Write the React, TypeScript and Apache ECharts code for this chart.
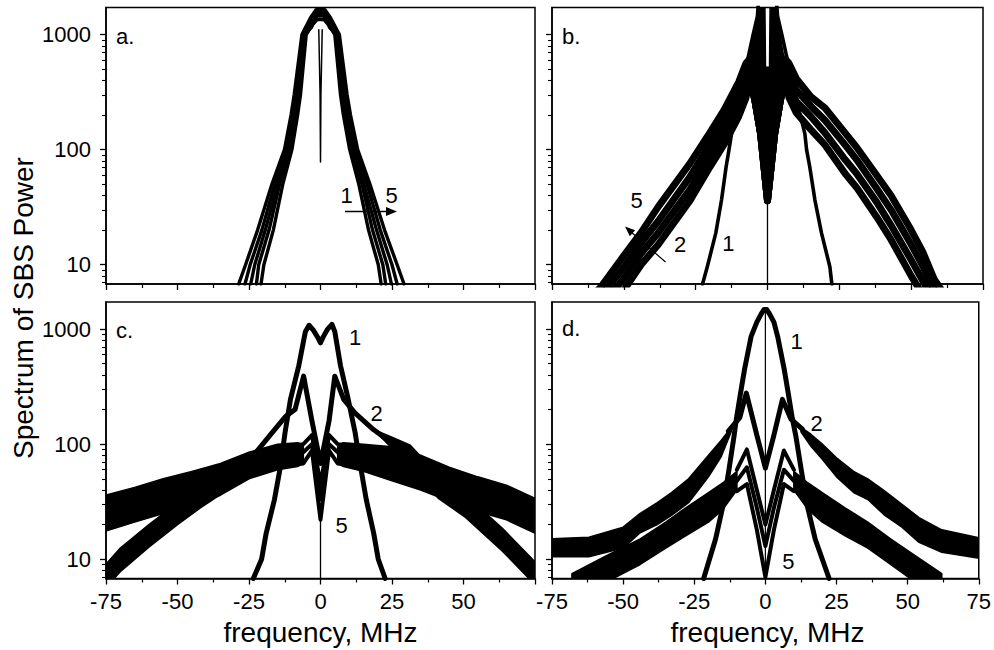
import React, { useEffect, useRef } from 'react';
import * as echarts from 'echarts';

// ---------- axis values ----------
const Y_MIN = 6.8;
const Y_MAX = 1720;
const X_MAJOR = [-75, -50, -25, 0, 25, 50, 75];
const X_MAJOR_C = [-75, -50, -25, 0, 25, 50];
const X_MINOR = [-62.5, -37.5, -12.5, 12.5, 37.5, 62.5];
const Y_MAJOR = [10, 100, 1000];
const Y_MINOR = [7, 8, 9, 20, 30, 40, 50, 60, 70, 80, 90, 200, 300, 400, 500, 600, 700, 800, 900];

// ---------- panel a : five spectra ----------
const A_X1 = [-20.8, -19.8, -16.5, -13.2, -10.0, -8.0, -7.0, -5.0, -3.0, -1.2, 1.2, 3.0, 5.0, 7.0, 8.0, 10.2, 13.4, 16.8, 20.2, 21.2];
const A_Y1 = [6.8, 10, 20, 50, 100, 200, 300, 1000, 1200, 1350, 1350, 1200, 1000, 300, 200, 100, 50, 20, 10, 6.8];
const A_X2 = [-22.4, -21.6, -18.0, -14.3, -10.8, -8.6, -7.6, -5.4, -3.0, -1.2, 1.2, 3.0, 5.5, 7.7, 8.7, 11.0, 14.5, 18.2, 21.8, 22.8];
const A_Y2 = [6.8, 10, 20, 50, 100, 200, 300, 1000, 1250, 1450, 1450, 1250, 1000, 300, 200, 100, 50, 20, 10, 6.8];
const A_X3 = [-24.4, -23.0, -19.3, -15.0, -11.4, -9.2, -8.2, -5.8, -3.2, -1.0, 1.0, 3.2, 5.9, 8.3, 9.3, 11.6, 15.2, 19.6, 23.3, 24.8];
const A_Y3 = [6.8, 10, 20, 50, 100, 200, 300, 1000, 1150, 1550, 1550, 1150, 1000, 300, 200, 100, 50, 20, 10, 6.8];
const A_X4 = [-26.4, -24.6, -20.5, -16.0, -12.0, -9.8, -8.7, -6.1, -3.4, -1.4, 1.4, 3.4, 6.2, 8.8, 9.9, 12.3, 16.3, 20.9, 25.0, 26.8];
const A_Y4 = [6.8, 10, 20, 50, 100, 200, 300, 1000, 1350, 1500, 1500, 1350, 1000, 300, 200, 100, 50, 20, 10, 6.8];
const A_X5 = [-28.6, -26.2, -22.0, -17.0, -12.6, -10.3, -9.2, -6.5, -3.5, -1.5, 1.5, 3.5, 6.6, 9.3, 10.5, 13.0, 17.3, 22.4, 26.8, 29.2];
const A_Y5 = [6.8, 10, 20, 50, 100, 200, 300, 1000, 1400, 1650, 1650, 1400, 1000, 300, 200, 100, 50, 20, 10, 6.8];
const A_DIP_X = [-0.6, -0.15, 0, 0.15, 0.6];
const A_DIP_Y = [1100, 300, 78, 300, 1100];

// ---------- panel b ----------
const B_X1 = [-22.6, -21.0, -18.0, -16.0, -14.4, -13.4, -12.5, -10.0, -7.5, -5.0, -3.5, -2.6, 2.6, 3.5, 5.0, 7.5, 10.1, 13.0, 13.6, 14.7, 16.5, 18.8, 21.7, 22.4];
const B_Y1 = [6.8, 9.5, 18.8, 36.5, 71, 100, 138, 270, 520, 1000, 1450, 3000, 3000, 1450, 1000, 520, 270, 138, 100, 71, 36.5, 18.8, 9.6, 6.8];
const B_WX = [-64, -58, -50, -44, -38, -27, -20, -15, -10, -7.5, -6.5, -4.4, -2.4, 0, 2.5, 4.5, 6.5, 7.5, 10, 15, 20, 27, 31, 38, 43, 50, 54, 58, 64];
const B_Y2 = [2.3, 3.4, 6.0, 10, 15, 36, 71, 112, 195, 282, 400, 270, 138, 36, 138, 270, 400, 282, 209, 150, 110, 62, 47, 26, 16.5, 8, 5.5, 3.8, 2.6];
const B_Y3 = [2.9, 4.3, 7.6, 12.5, 19, 45, 89, 141, 245, 355, 450, 270, 138, 36, 138, 270, 450, 355, 263, 195, 140, 82, 62, 35, 22, 11, 7.3, 4.8, 3.1];
const B_Y4 = [3.6, 5.3, 9.5, 15.5, 24, 58, 112, 178, 309, 447, 520, 270, 138, 36, 138, 270, 520, 447, 331, 240, 180, 110, 82, 46, 30, 15, 9.8, 6, 3.8];
const B_Y5 = [4.5, 6.4, 12, 19, 32, 76, 141, 224, 389, 562, 600, 270, 138, 36, 138, 270, 600, 562, 417, 290, 230, 140, 105, 60, 40, 20, 13, 7.5, 4.5];
const B_CORE_X = [-7.4, -5.8, -4.4, -3.3, -0.9, -0.7, 0.7, 0.9, 2.9, 4.3, 5.4, 7.3, 4.5, 2.5, 0.4, -0.4, -2.4, -4.4];
const B_CORE_Y = [480, 700, 1020, 1720, 1720, 520, 520, 1720, 1720, 1020, 700, 480, 270, 138, 36, 36, 138, 270];
const B_MID_X = [0, 0];
const B_MID_Y = [6.8, 520];

// ---------- panel c ----------
const C_X1 = [-23.5, -20.6, -19.0, -16.1, -14.0, -12.4, -10.5, -7.6, -5.3, -4.0, -2.5, -1.0, 0, 1.0, 2.5, 4.0, 5.0, 7.0, 9.7, 12.1, 14.0, 16.0, 18.6, 20.2, 22.6];
const C_Y1 = [6.8, 10, 16.8, 33, 64, 126, 245, 480, 950, 1080, 980, 850, 760, 860, 1000, 1100, 950, 480, 245, 126, 64, 33, 16.8, 10, 6.8];
// curve 2: central part (line) and its noisy wings (bands)
const C_X2 = [-25, -21.7, -16.9, -12.1, -8.9, -5.9, -3, 0, 3, 5.0, 8.1, 12.1, 18.5, 25];
const C_Y2 = [72, 90, 126, 175, 200, 390, 160, 68, 160, 390, 245, 186, 134, 102];
const C_W2L_X = [-77, -70, -60, -50, -42, -30, -25, -21.7];
const C_W2L_HI = [8, 12.5, 20, 31, 44, 66, 80, 90];
const C_W2L_LO = [5, 7.8, 12.7, 20, 28, 44, 62, 90];
const C_W2R_X = [18.5, 25, 31.4, 41.1, 50.8, 63.7, 75, 77];
const C_W2R_HI = [134, 115, 98, 54, 36, 18.5, 9.5, 8.5];
const C_W2R_LO = [134, 92, 62, 34, 23, 11.7, 6, 5.4];
// curves 3-5: common wide band and their central structure
const C_BL_X = [-77, -65, -55, -45, -35, -25, -15, -8, -6];
const C_BL_HI = [35, 42, 50, 58, 68, 85, 100, 103, 100];
const C_BL_LO = [17, 21, 25, 29, 36, 50, 60, 64, 68];
const C_BR_X = [6, 8, 15, 25, 35, 45, 55, 65, 77];
const C_BR_HI = [100, 103, 100, 95, 80, 63, 52, 44, 32];
const C_BR_LO = [68, 64, 58, 48, 40, 32, 26, 22, 16];
const C_CX = [-10, -6, -3, 0, 3, 6, 10];
const C_Y3 = [95, 100, 120, 45, 120, 100, 95];
const C_Y4 = [82, 85, 100, 33, 100, 85, 82];
const C_Y5 = [66, 68, 88, 22, 88, 68, 66];
const C_MID_X = [0, 0];
const C_MID_Y = [6.8, 24];

// ---------- panel d ----------
const D_X1 = [-21.7, -17.5, -14.8, -12.8, -11.0, -10.2, -8.5, -7.3, -5.0, -3.0, -1.5, -0.5, 0.5, 1.5, 3.0, 4.3, 6.6, 7.8, 9.5, 10.7, 12.6, 14.6, 17.5, 22.4];
const D_Y1 = [6.8, 15, 30, 60, 118, 166, 300, 450, 865, 1150, 1350, 1480, 1480, 1350, 1150, 865, 450, 300, 166, 118, 60, 30, 15, 6.8];
const D_X2 = [-13, -9, -6.7, -3, 0, 3, 6, 9, 13];
const D_Y2 = [130, 170, 278, 120, 62, 120, 245, 165, 135];
const D_W2L_X = [-77, -62, -50, -44, -38, -33, -27, -20, -15.5, -12];
const D_W2L_HI = [15, 15.5, 19, 25, 31, 38, 50, 80, 108, 140];
const D_W2L_LO = [10.5, 10.5, 12.5, 17, 20, 24, 31, 52, 78, 128];
const D_W2R_X = [12.5, 16, 20, 25, 31, 36, 42, 48, 54, 62, 77];
const D_W2R_HI = [140, 122, 100, 76, 58, 50, 39, 30, 23, 18, 15];
const D_W2R_LO = [128, 96, 74, 52, 38, 33, 24, 19, 14, 11.5, 10];
const D_BL_X = [-68, -55, -44, -35, -28, -20, -15, -10];
const D_BL_HI = [7.5, 11, 15, 21, 28, 38, 46, 58];
const D_BL_LO = [4.5, 6.5, 9, 12.5, 16, 21, 27, 40];
const D_BR_X = [10, 15, 20, 28, 36, 44, 52, 62];
const D_BR_HI = [58, 46, 38, 28, 21, 15, 11, 7.5];
const D_BR_LO = [40, 27, 21, 16, 12.5, 9, 6.5, 4.5];
const D_CX = [-10, -6.5, -3, 0, 3, 6.5, 10];
const D_Y3 = [60, 90, 40, 20, 40, 88, 60];
const D_Y4 = [48, 63, 28, 13, 28, 60, 48];
const D_Y5 = [39, 45, 18, 7, 18, 45, 39];
const D_MID_X = [0, 0];
const D_MID_Y = [6.8, 1500];

// ---------- layout ----------
const FONT = 'Arial, "Liberation Sans", Helvetica, sans-serif';
const GRIDS = [
  { left: 106, top: 7.5, width: 429, height: 276.5 },
  { left: 552, top: 7.5, width: 431, height: 276.5 },
  { left: 106, top: 302, width: 429, height: 276.5 },
  { left: 552, top: 302, width: 431, height: 276.5 },
];

const pairs = (xs: number[], ys: number[]) => xs.map((x, i) => [x, ys[i]]);

function line(g: number, xs: number[], ys: number[], w: number) {
  return {
    type: 'line',
    xAxisIndex: g,
    yAxisIndex: g,
    data: pairs(xs, ys),
    symbol: 'none',
    silent: true,
    clip: true,
    lineStyle: { color: '#000', width: w, join: 'round', cap: 'round' },
  };
}

function polygon(g: number, xs: number[], ys: number[]) {
  return {
    type: 'custom',
    xAxisIndex: g,
    yAxisIndex: g,
    silent: true,
    clip: true,
    data: [[0, 100]],
    renderItem: (_p: any, api: any) => ({
      type: 'polygon',
      shape: { points: xs.map((x, i) => api.coord([x, ys[i]])) },
      style: { fill: '#000', stroke: '#000', lineWidth: 1.5, lineJoin: 'round' },
    }),
  };
}

function band(g: number, xs: number[], lo: number[], hi: number[]) {
  const px = [...xs, ...xs.slice().reverse()];
  const py = [...hi, ...lo.slice().reverse()];
  return polygon(g, px, py);
}

function txt(x: number, y: number, text: string, size: number, align = 'center', rotation = 0) {
  return {
    type: 'text',
    x,
    y,
    rotation,
    z: 100,
    style: {
      text,
      fill: '#000',
      fontSize: size,
      fontFamily: FONT,
      align,
      verticalAlign: 'middle',
      textAlign: align,
      textVerticalAlign: 'middle',
    },
  };
}

function buildOption() {
  const xAxis: any[] = [];
  const yAxis: any[] = [];
  for (let g = 0; g < 4; g++) {
    xAxis.push({
      gridIndex: g,
      type: 'value',
      min: -75,
      max: 75,
      position: 'bottom',
      axisLine: { onZero: false, lineStyle: { color: '#000', width: 1.5 } },
      axisTick: { customValues: X_MAJOR, length: 6, lineStyle: { color: '#000', width: 1.3 } },
      axisLabel: {
        show: g >= 2,
        customValues: g === 2 ? X_MAJOR_C : X_MAJOR,
        fontSize: 22,
        fontFamily: FONT,
        color: '#000',
        margin: 12,
      },
      splitLine: { show: false },
    });
    yAxis.push({
      gridIndex: g,
      type: 'log',
      logBase: 10,
      min: Y_MIN,
      max: Y_MAX,
      position: 'left',
      axisLine: { onZero: false, lineStyle: { color: '#000', width: 1.5 } },
      axisTick: { customValues: Y_MAJOR, length: 6, lineStyle: { color: '#000', width: 1.3 } },
      axisLabel: {
        show: g % 2 === 0,
        customValues: Y_MAJOR,
        formatter: (v: number) => String(Math.round(v)),
        fontSize: 22,
        fontFamily: FONT,
        color: '#000',
        margin: 15,
      },
      splitLine: { show: false },
    });
  }
  for (let g = 0; g < 4; g++) {
    xAxis.push({
      gridIndex: g,
      type: 'value',
      min: -75,
      max: 75,
      position: 'bottom',
      axisLine: { show: false, onZero: false },
      axisTick: { customValues: X_MINOR, length: 4, lineStyle: { color: '#000', width: 1.2 } },
      axisLabel: { show: false },
      splitLine: { show: false },
    });
    yAxis.push({
      gridIndex: g,
      type: 'log',
      logBase: 10,
      min: Y_MIN,
      max: Y_MAX,
      position: 'left',
      axisLine: { show: false, onZero: false },
      axisTick: { customValues: Y_MINOR, length: 4, lineStyle: { color: '#000', width: 1.1 } },
      axisLabel: { show: false },
      splitLine: { show: false },
    });
  }

  const series: any[] = [
    // a
    line(0, A_X1, A_Y1, 3.4),
    line(0, A_X2, A_Y2, 3.4),
    line(0, A_X3, A_Y3, 3.4),
    line(0, A_X4, A_Y4, 3.4),
    line(0, A_X5, A_Y5, 3.4),
    line(0, A_DIP_X, A_DIP_Y, 1.5),
    // b
    line(1, B_WX, B_Y2, 7),
    line(1, B_WX, B_Y3, 7),
    line(1, B_WX, B_Y4, 7),
    line(1, B_WX, B_Y5, 7),
    polygon(1, B_CORE_X, B_CORE_Y),
    line(1, B_X1, B_Y1, 3.6),
    line(1, B_MID_X, B_MID_Y, 1.3),
    // c
    band(2, C_BL_X, C_BL_LO, C_BL_HI),
    band(2, C_BR_X, C_BR_LO, C_BR_HI),
    band(2, C_W2L_X, C_W2L_LO, C_W2L_HI),
    band(2, C_W2R_X, C_W2R_LO, C_W2R_HI),
    line(2, C_CX, C_Y3, 4),
    line(2, C_CX, C_Y4, 4),
    line(2, C_CX, C_Y5, 4),
    line(2, C_X2, C_Y2, 5),
    line(2, C_X1, C_Y1, 5),
    line(2, C_MID_X, C_MID_Y, 1.3),
    // d
    band(3, D_BL_X, D_BL_LO, D_BL_HI),
    band(3, D_BR_X, D_BR_LO, D_BR_HI),
    band(3, D_W2L_X, D_W2L_LO, D_W2L_HI),
    band(3, D_W2R_X, D_W2R_LO, D_W2R_HI),
    line(3, D_CX, D_Y3, 4),
    line(3, D_CX, D_Y4, 4),
    line(3, D_CX, D_Y5, 4),
    line(3, D_X2, D_Y2, 5),
    line(3, D_X1, D_Y1, 5),
    line(3, D_MID_X, D_MID_Y, 1.2),
  ];

  const graphic: any[] = [
    txt(116, 36, 'a.', 22, 'left'),
    txt(562, 36.5, 'b.', 22, 'left'),
    txt(116, 330, 'c.', 22, 'left'),
    txt(562, 328.5, 'd.', 22, 'left'),
    // a annotations
    txt(346.7, 195, '1', 22),
    txt(391.7, 195, '5', 22),
    { type: 'line', z: 100, shape: { x1: 345, y1: 211.5, x2: 388, y2: 211.5 }, style: { stroke: '#000', lineWidth: 1.5 } },
    { type: 'polygon', z: 100, shape: { points: [[397, 211.5], [386, 207], [386, 216]] }, style: { fill: '#000' } },
    // b annotations
    txt(636.7, 200, '5', 22),
    txt(680, 244, '2', 22),
    txt(728.3, 243, '1', 22),
    { type: 'line', z: 100, shape: { x1: 665.5, y1: 262, x2: 631, y2: 232 }, style: { stroke: '#000', lineWidth: 1.2 } },
    { type: 'polygon', z: 100, shape: { points: [[625, 226.5], [635.1, 230.2], [629.8, 236.2]] }, style: { fill: '#000' } },
    // c annotations
    txt(355, 337, '1', 22),
    txt(376.7, 413.3, '2', 22),
    txt(341.7, 525, '5', 22),
    // d annotations
    txt(796.7, 341.7, '1', 22),
    txt(816.7, 423.3, '2', 22),
    txt(788.3, 561.7, '5', 22),
    // axis titles
    txt(320.5, 632, 'frequency, MHz', 28),
    txt(767.5, 632, 'frequency, MHz', 28),
    txt(23, 308, 'Spectrum of SBS Power', 28, 'center', Math.PI / 2),
  ];

  return {
    animation: false,
    backgroundColor: '#fff',
    grid: GRIDS.map((g) => ({ ...g, show: true, borderColor: '#000', borderWidth: 1.5, backgroundColor: 'transparent' })),
    xAxis,
    yAxis,
    series,
    graphic,
  };
}

export default function App() {
  const ref = useRef<HTMLDivElement>(null);
  useEffect(() => {
    const chart = echarts.init(ref.current!, null, { renderer: 'svg' });
    chart.setOption(buildOption() as any);
    return () => chart.dispose();
  }, []);
  return (
    <div
      ref={ref}
      style={{ position: 'fixed', left: 0, top: 0, width: 994, height: 650, background: '#fff' }}
    />
  );
}
